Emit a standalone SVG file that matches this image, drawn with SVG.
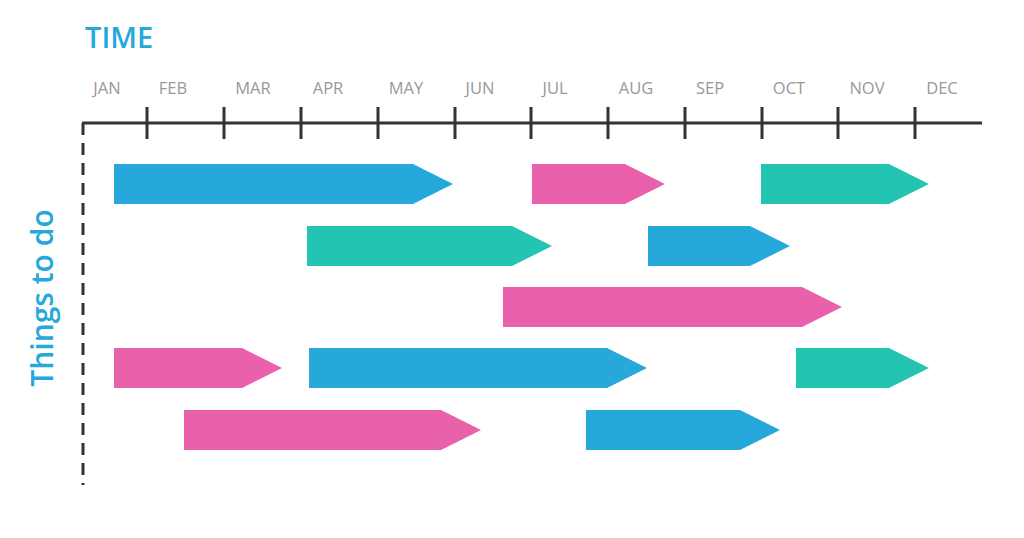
<svg xmlns="http://www.w3.org/2000/svg" width="1024" height="538" viewBox="0 0 1024 538">
<style>
.title{font-family:"Open Sans","Liberation Sans",sans-serif;font-weight:600;fill:#27A8DA}
.m{font-family:"Open Sans","Liberation Sans",sans-serif;font-size:16.5px;fill:#999;text-anchor:middle}
.ax{stroke:#333;stroke-width:3;fill:none}
.b{fill:#27A8DA}.p{fill:#E961AB}.t{fill:#23C4B2}
</style>
<rect width="1024" height="538" fill="#fff"/>
<text class="title" x="85" y="48" font-size="29">TIME</text>
<text class="title" font-size="30" text-anchor="middle" transform="translate(53,298) rotate(-90)">Things to do</text>
<g id="axis">
<path class="ax" d="M82 123H982"/>
<path class="ax" d="M83 123V485" stroke-dasharray="12 8"/>
<path class="ax" d="M147 107V139M224 107V139M301 107V139M378 107V139M455 107V139M531 107V139M608 107V139M685 107V139M762 107V139M838 107V139M915 107V139"/>
</g>
<g id="months">
<text class="m" x="107" y="94">JAN</text>
<text class="m" x="173" y="94">FEB</text>
<text class="m" x="253" y="94">MAR</text>
<text class="m" x="328" y="94">APR</text>
<text class="m" x="406" y="94">MAY</text>
<text class="m" x="480" y="94">JUN</text>
<text class="m" x="555" y="94">JUL</text>
<text class="m" x="636" y="94">AUG</text>
<text class="m" x="710" y="94">SEP</text>
<text class="m" x="789" y="94">OCT</text>
<text class="m" x="867" y="94">NOV</text>
<text class="m" x="942" y="94">DEC</text>
</g>
<g id="task1"><polygon class="b" points="114,164 413,164 453,184 413,204 114,204"/></g>
<g id="task2"><polygon class="p" points="532,164 625,164 665,184 625,204 532,204"/></g>
<g id="task3"><polygon class="t" points="761,164 889,164 929,184 889,204 761,204"/></g>
<g id="task4"><polygon class="t" points="307,226 512,226 552,246 512,266 307,266"/></g>
<g id="task5"><polygon class="b" points="648,226 750,226 790,246 750,266 648,266"/></g>
<g id="task6"><polygon class="p" points="503,287 802,287 842,307 802,327 503,327"/></g>
<g id="task7"><polygon class="p" points="114,348 242,348 282,368 242,388 114,388"/></g>
<g id="task8"><polygon class="b" points="309,348 607,348 647,368 607,388 309,388"/></g>
<g id="task9"><polygon class="t" points="796,348 889,348 929,368 889,388 796,388"/></g>
<g id="task10"><polygon class="p" points="184,410 441,410 481,430 441,450 184,450"/></g>
<g id="task11"><polygon class="b" points="586,410 740,410 780,430 740,450 586,450"/></g>
</svg>
